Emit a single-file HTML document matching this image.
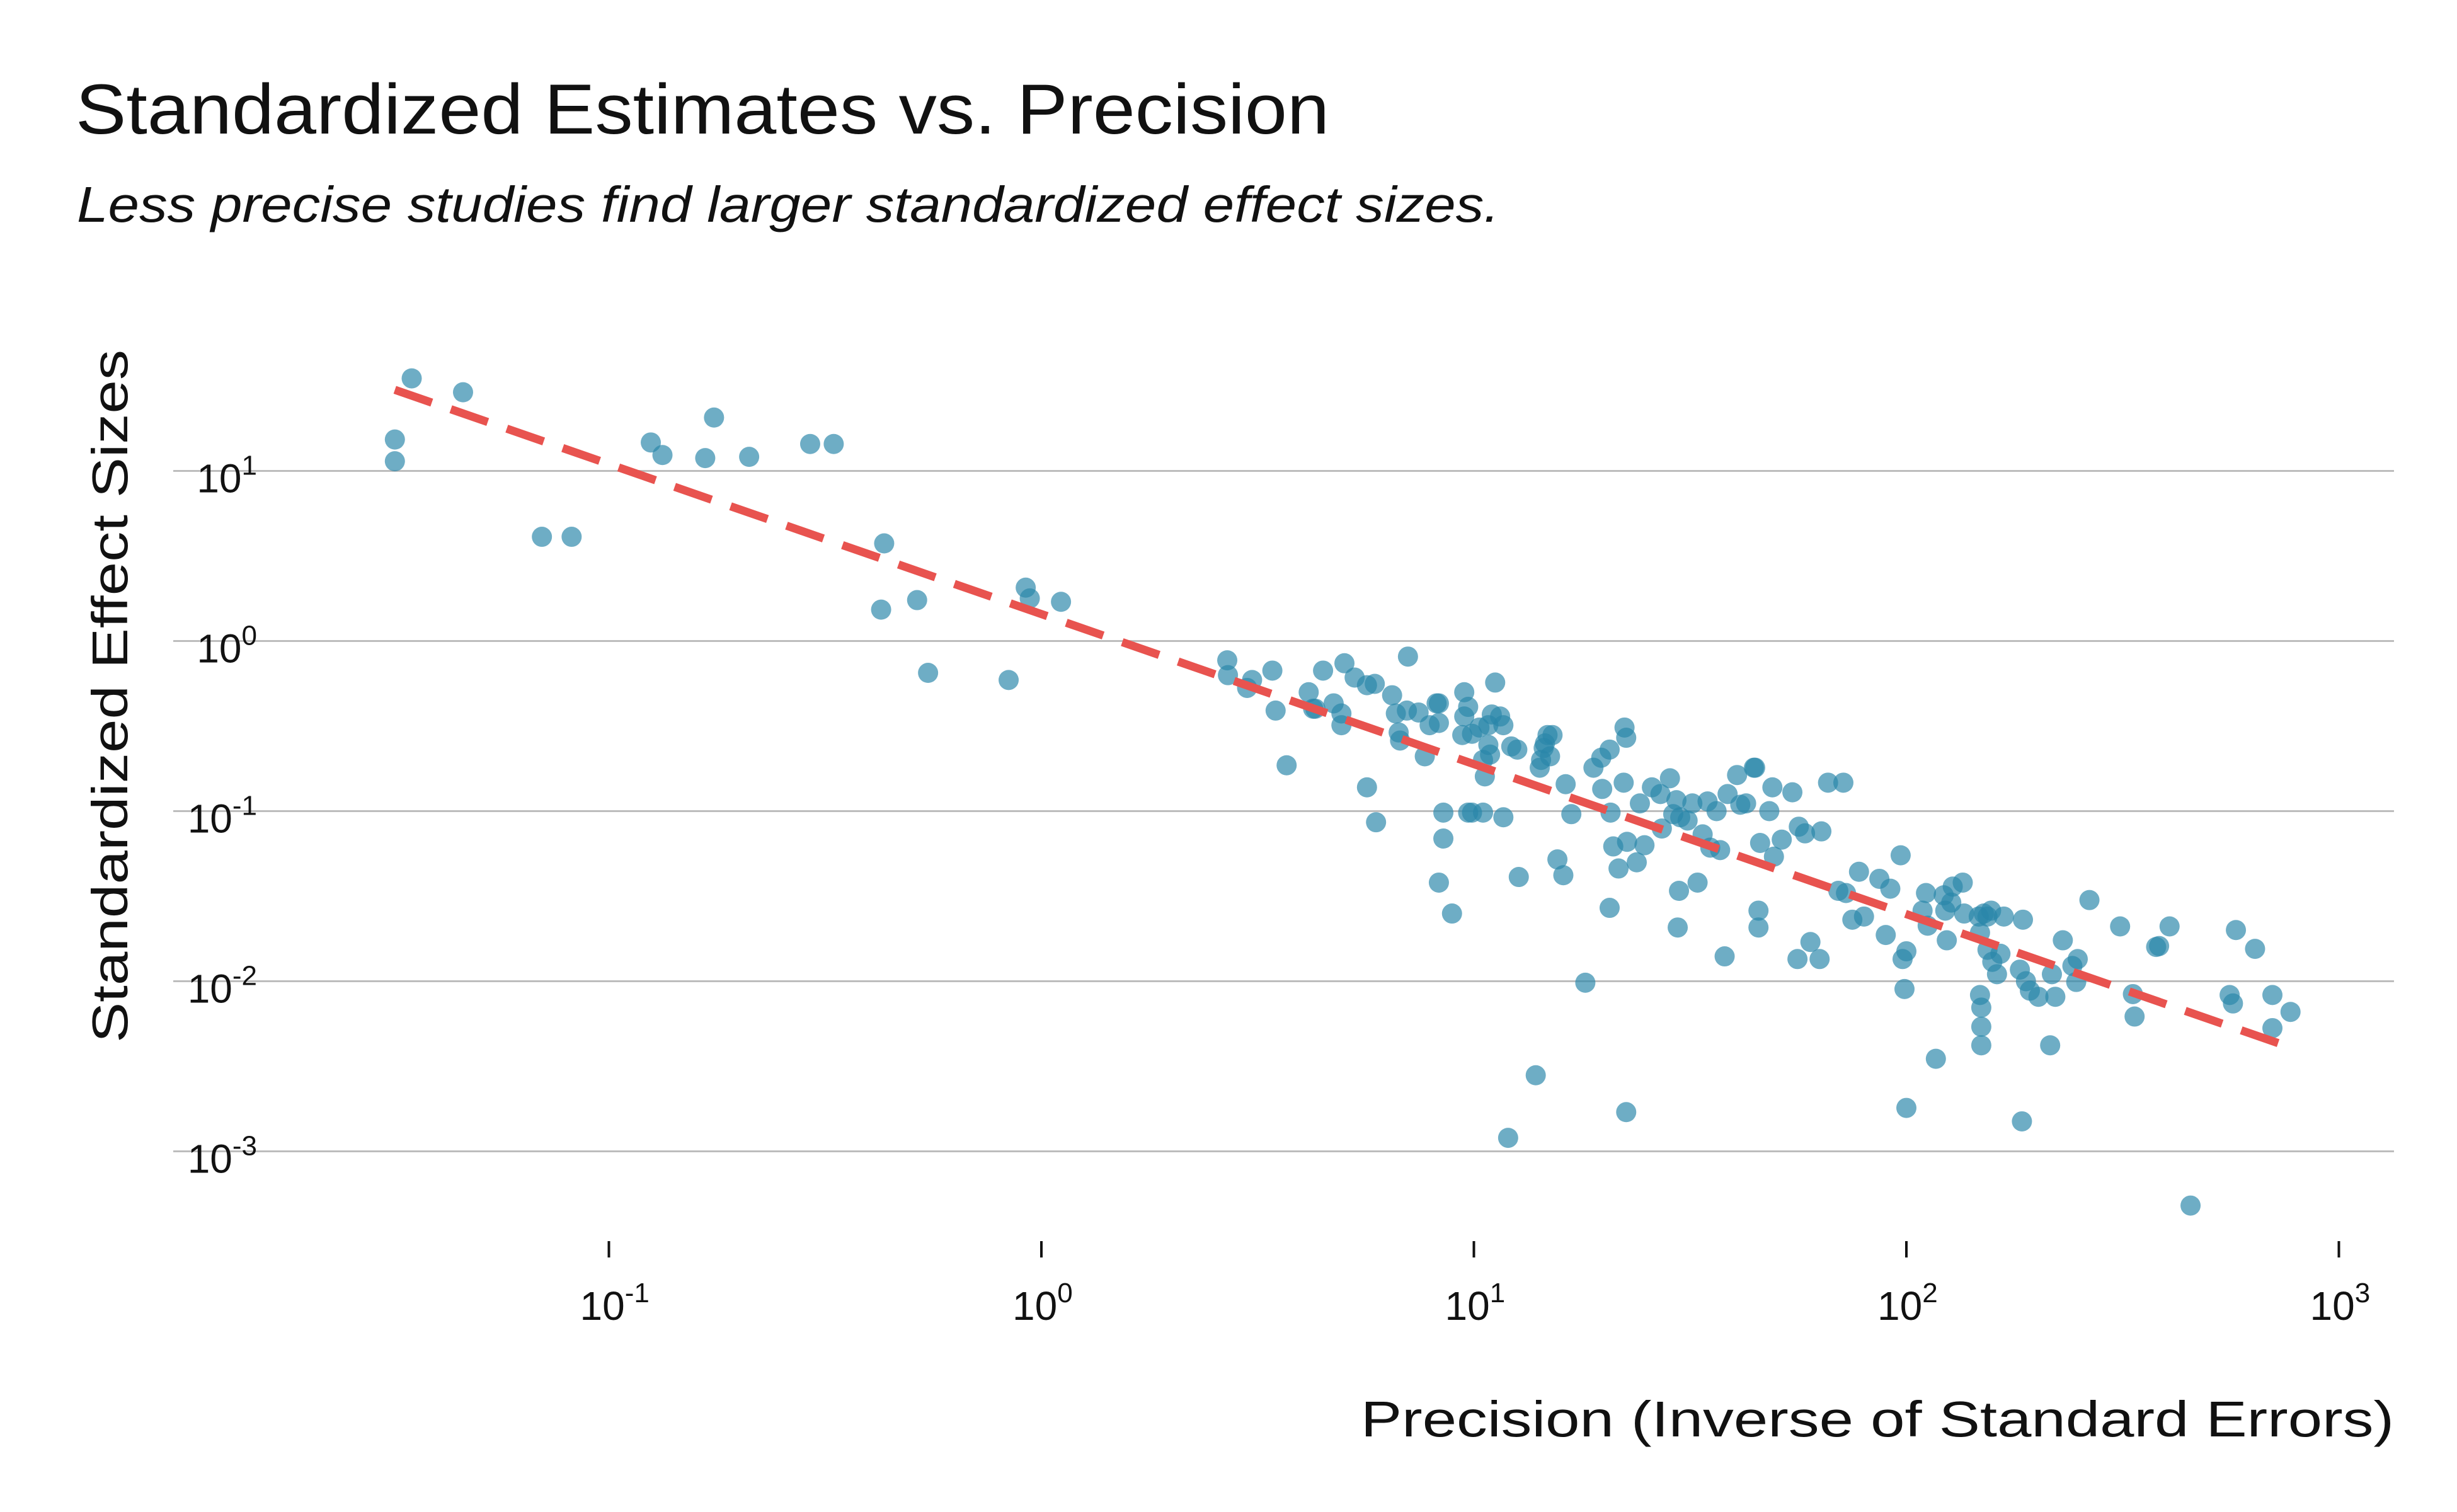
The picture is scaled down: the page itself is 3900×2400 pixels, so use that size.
<!DOCTYPE html>
<html><head><meta charset="utf-8"><style>
html,body{margin:0;padding:0;background:#fff;}
svg{display:block;}
text{font-family:"Liberation Sans",sans-serif;fill:#111;}
</style></head><body>
<svg id="chart" width="3900" height="2400" viewBox="0 0 3900 2400" xmlns="http://www.w3.org/2000/svg">
<text x="120" y="212" font-size="112" textLength="1990" lengthAdjust="spacingAndGlyphs">Standardized Estimates vs. Precision</text>
<text x="122" y="352" font-size="80" font-style="italic" textLength="2258" lengthAdjust="spacingAndGlyphs">Less precise studies find larger standardized effect sizes.</text>
<g id="grid"></g>
<g id="xticks"></g>
<g id="yticks"></g>
<g id="points"></g>
<g id="fit"></g>
<text transform="translate(202,1105) rotate(-90)" text-anchor="middle" font-size="80" textLength="1100" lengthAdjust="spacingAndGlyphs">Standardized Effect Sizes</text>
<text x="3800" y="2280" text-anchor="end" font-size="80" textLength="1640" lengthAdjust="spacingAndGlyphs">Precision (Inverse of Standard Errors)</text>
</svg>
<script>
const xTickExps = [-1, 0, 1, 2, 3];
const yTickExps = [1, 0, -1, -2, -3];
const precision = [0.032,0.032,0.035,0.046,0.070,0.082,0.125,0.133,0.167,0.175,0.211,0.292,0.331,0.433,0.426,0.516,0.547,0.84,0.92,0.94,1.11,
2.69,2.7,2.99,3.07,3.42,3.48,3.69,4.15,4.25,4.48,4.3,4.74,4.94,4.94,5.02,5.3,5.66,5.9,5.66,5.94,6.47,6.6,6.75,6.7,7.04,7.0,7.45,7.7,7.9,8.2,8.3,8.3,8.5,8.5,8.3,8.9,
9.5,9.4,9.5,9.7,9.9,10.3,10.8,10.8,10.5,10.6,10.9,11,11.2,11.7,11.5,9.9,10.5,11.7,9.7,12.2,12.6,12.7,12,13.9,14.2,14.3,14.6,14.8,15.2,14.5,15,15.6,16.1,16.3,16.8,18.1,18.9,19.7,19.8,20.6,20.7,20.6,21,21.6,22.3,22.5,22.6,22.5,22.2,23.8,24.2,24.8,25.8,27,27.2,28.4,28.9,29.4,30,29.6,29.8,31.2,32,32.9,33.8,34.7,35.2,36.4,37.1,38,38.6,40.6,41.3,42.6,44.4,44.7,45.5,45.5,45.9,48.2,49,49.4,51.5,54.5,56,56.4,58.3,60,63,63.6,65.9,71.5,69.6,72.5,75,77.7,79.8,86.6,89.6,91.8,97,98,100,99,100,109,111,112,117,122,123,127,128,124,135,136,147,148,151,154,157,148,149,149,149,154,158,162,165,168,183,186,189,185,193,202,217,215,221,230,242,249,247,265,312,334,337,378,384,406,454,559,578,569,640,702,702,773];
const effect = [15.3,11.4,35,29,4.1,4.1,14.7,12.4,11.9,20.6,12.1,14.4,14.4,3.75,1.53,1.74,0.65,0.59,2.06,1.78,1.70,
0.77,0.63,0.53,0.59,0.67,0.39,0.186,0.50,0.40,0.67,0.40,0.43,0.375,0.32,0.74,0.61,0.55,0.56,0.138,0.086,0.48,0.375,0.26,0.29,0.81,0.39,0.38,0.21,0.32,0.43,0.43,0.33,0.098,0.069,0.038,0.025,
0.50,0.28,0.36,0.41,0.285,0.31,0.245,0.32,0.20,0.16,0.215,0.37,0.57,0.32,0.36,0.098,0.098,0.092,0.098,0.24,0.23,0.041,0.0012,0.0028,0.18,0.20,0.25,0.28,0.28,0.235,0.21,0.052,0.042,0.144,0.096,0.0098,0.18,0.206,0.135,0.23,0.098,0.027,0.062,0.046,0.31,0.27,0.066,0.0017,0.147,0.050,0.111,0.063,0.138,0.126,0.079,0.156,0.096,0.116,0.092,0.0207,0.034,0.088,0.111,0.038,0.073,0.114,0.061,0.10,0.059,0.014,0.126,0.163,0.109,0.111,0.18,0.18,0.026,0.0207,0.065,0.10,0.138,0.054,0.068,0.129,0.0135,0.081,0.074,0.017,0.0135,0.076,0.147,0.147,0.034,0.033,0.023,0.044,0.024,0.040,0.0187,0.035,0.055,0.0135,0.015,0.009,0.0018,0.026,0.033,0.0212,0.0035,0.032,0.026,0.029,0.036,0.0174,0.038,0.025,0.024,0.0193,0.025,0.024,0.026,0.0083,0.007,0.0054,0.0042,0.0153,0.013,0.011,0.0145,0.024,0.0117,0.023,0.010,0.0015,0.0088,0.0081,0.011,0.0042,0.0081,0.0174,0.0123,0.0135,0.0099,0.030,0.021,0.0084,0.0062,0.0159,0.0161,0.021,0.00048,0.0083,0.020,0.0074,0.0155,0.0083,0.0053,0.0066];
const fitIntercept = 1.44;
const fitSlope = -0.882;
const fitRange = [0.032, 773];

const NS = "http://www.w3.org/2000/svg";
function xScale(v){ return 1653 + 686.5*Math.log10(v); }
function yScale(v){ return 1017.5 - 270*Math.log10(v); }
function mk(tag, attrs, parent){
  const e = document.createElementNS(NS, tag);
  for (const k in attrs) e.setAttribute(k, attrs[k]);
  parent.appendChild(e);
  return e;
}
const grid = document.getElementById('grid');
const yt = document.getElementById('yticks');
yTickExps.forEach(p => {
  const y = yScale(Math.pow(10,p));
  const l = mk('line', {x1:275, x2:3800, y1:y, y2:y, stroke:'#bdbdbd', 'stroke-width':3}, grid);
  
  
  const t = mk('text', {x:408, y:y+34, 'text-anchor':'end', 'font-size':64}, yt);
  
  
  t.textContent = '10';
  const s = mk('tspan', {dy:-28, 'font-size':44}, t);
  s.textContent = String(p);
});
const xt = document.getElementById('xticks');
xTickExps.forEach(p => {
  const x = xScale(Math.pow(10,p));
  const tk = mk('line', {x1:x, x2:x, y1:1970, y2:1996, stroke:'#111', 'stroke-width':4}, xt);
  
  
  const t = mk('text', {x:x-46, y:2095, 'font-size':64}, xt);
  
  
  t.textContent = '10';
  const s = mk('tspan', {dy:-28, 'font-size':44}, t);
  s.textContent = String(p);
});
const pts = document.getElementById('points');
for (let i = 0; i < precision.length; i++) {
  const c = mk('circle', {cx:xScale(precision[i]), cy:yScale(effect[i]), r:16, fill:'#2a86a9', 'fill-opacity':0.68}, pts);
  
  
}
const fit = document.getElementById('fit');
const fy = v => fitIntercept*Math.pow(v, fitSlope);
const ln = mk('line', {x1:xScale(fitRange[0]), y1:yScale(fy(fitRange[0])), x2:xScale(fitRange[1]), y2:yScale(fy(fitRange[1])), stroke:'#e8534f', 'stroke-width':13, 'stroke-dasharray':'62 32'}, fit);


</script>
</body></html>
